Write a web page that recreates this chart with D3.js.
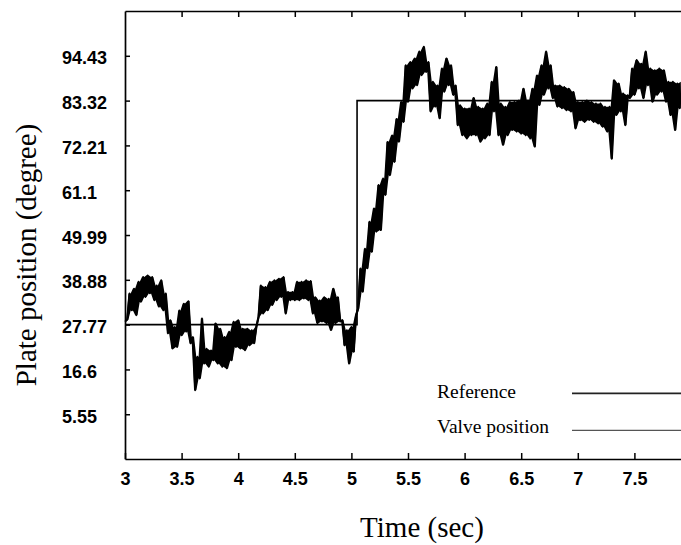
<!DOCTYPE html>
<html>
<head>
<meta charset="utf-8">
<script src="https://cdn.jsdelivr.net/npm/d3@7/dist/d3.min.js"></script>
<style>
  html, body { margin: 0; padding: 0; background: #fff; }
  svg { display: block; }
</style>
</head>
<body>
<svg id="chart" width="681" height="545"></svg>
<script>
// Axis ticks
const xTicks = [3, 3.5, 4, 4.5, 5, 5.5, 6, 6.5, 7, 7.5];
const xTickLabels = ["3", "3.5", "4", "4.5", "5", "5.5", "6", "6.5", "7", "7.5"];
const yTicks = [5.55, 16.66, 27.77, 38.88, 49.99, 61.10, 72.21, 83.32, 94.43];
const yTickLabels = ["5.55", "16.6", "27.77", "38.88", "49.99", "61.1", "72.21", "83.32", "94.43"];

// Reference (set-point) step
const refTime = [3, 5.05, 5.05, 8];
const refValue = [27.77, 27.77, 83.32, 83.32];

// Measured valve position, sampled every 0.02 s from t = 3 s
const valveStart = 3;
const valveStep = 0.02;
const valveValue = [
  28.5, 29.0, 35.5, 31.3, 36.7, 30.1, 38.4, 33.4, 39.6, 34.6,
  40.0, 35.5, 39.6, 33.8, 37.5, 32.2, 38.8, 31.3, 35.5, 25.6,
  28.9, 21.8, 27.2, 22.2, 31.3, 25.1, 33.0, 26.0, 33.6, 23.1,
  24.7, 11.5, 19.8, 14.4, 29.3, 18.1, 21.8, 17.3, 21.4, 18.9,
  28.1, 18.1, 26.8, 17.3, 24.7, 16.9, 26.0, 18.9, 28.5, 22.2,
  28.9, 21.8, 26.8, 21.4, 26.8, 22.6, 26.4, 23.1, 27.2, 29.7,
  37.5, 30.5, 37.1, 31.3, 38.4, 32.6, 38.8, 33.8, 39.2, 34.6,
  39.6, 30.5, 35.9, 33.8, 35.9, 33.8, 38.4, 33.8, 38.4, 34.2,
  38.8, 33.8, 38.6, 30.5, 34.6, 28.1, 33.8, 28.5, 34.6, 28.1,
  34.2, 26.4, 36.7, 28.1, 34.6, 28.5, 28.9, 22.6, 26.4, 18.1,
  27.2, 21.0, 30.0, 31.8, 41.7, 35.9, 46.6, 41.7, 53.3, 45.8,
  56.6, 50.8, 62.4, 51.2, 64.0, 59.9, 73.1, 64.8, 74.7, 68.1,
  78.8, 73.1, 83.0, 78.0, 92.1, 83.0, 92.9, 86.3, 93.8, 87.1,
  95.5, 89.6, 96.7, 90.4, 92.9, 80.6, 88.0, 81.8, 87.1, 78.9,
  91.3, 85.5, 93.8, 87.1, 92.1, 84.7, 87.1, 77.2, 82.2, 74.7,
  81.4, 73.9, 81.4, 74.7, 84.0, 74.7, 81.8, 73.1, 81.4, 73.9,
  82.6, 74.7, 88.0, 80.6, 91.7, 74.7, 82.6, 72.3, 81.8, 74.7,
  83.0, 76.0, 83.0, 75.6, 83.4, 75.1, 86.3, 74.7, 83.4, 73.9,
  86.3, 71.9, 89.6, 82.2, 92.1, 84.7, 95.5, 86.3, 92.1, 83.9,
  87.1, 81.8, 87.1, 81.4, 86.7, 80.9, 86.3, 80.6, 85.5, 76.4,
  83.0, 78.4, 83.0, 78.0, 83.4, 78.5, 83.0, 78.0, 82.6, 77.6,
  82.6, 76.8, 81.8, 75.6, 81.8, 68.9, 88.4, 79.7, 87.6, 80.6,
  85.1, 77.2, 84.7, 83.9, 91.3, 84.7, 93.4, 86.3, 92.5, 83.9,
  95.5, 87.1, 91.3, 83.0, 90.9, 84.7, 91.3, 85.5, 90.9, 83.0,
  88.0, 79.7, 88.0, 76.0, 87.6, 81.4, 88.0
];

const legendLabels = ["Reference", "Valve position"];

(function drawChart() {
  const svg = d3.select("#chart");
  const plotLeft = 125, plotRight = 691, plotTop = 11, plotBottom = 459;

  const x = d3.scaleLinear().domain([3, 8]).range([plotLeft, plotRight]);
  const y = d3.scaleLinear().domain([-5.55, 105.54]).range([plotBottom, plotTop]);

  const sansFont = "'Liberation Sans', Arial, sans-serif";
  const serifFont = "'Liberation Serif', 'Times New Roman', serif";

  // Bottom axis with inward ticks
  const gx = svg.append("g")
    .attr("transform", `translate(0,${plotBottom})`)
    .call(d3.axisBottom(x).tickValues(xTicks)
      .tickFormat((d, i) => xTickLabels[i])
      .tickSizeInner(-6).tickSizeOuter(0));
  gx.selectAll("text")
    .attr("y", 26)
    .attr("dy", 0)
    .attr("fill", "#000")
    .style("font-family", sansFont)
    .style("font-weight", "bold")
    .style("font-size", "18px");

  // Top border with inward ticks
  const gt = svg.append("g")
    .attr("transform", `translate(0,${plotTop})`)
    .call(d3.axisTop(x).tickValues(xTicks.slice(1))
      .tickFormat("").tickSizeInner(-6).tickSizeOuter(0));

  // Left axis with inward ticks, labels left-aligned
  const gy = svg.append("g")
    .attr("transform", `translate(${plotLeft},0)`)
    .call(d3.axisLeft(y).tickValues(yTicks)
      .tickFormat((d, i) => yTickLabels[i])
      .tickSizeInner(-5).tickSizeOuter(0));
  gy.selectAll("text")
    .attr("x", -63)
    .attr("dy", "0.45em")
    .attr("text-anchor", "start")
    .attr("fill", "#000")
    .style("font-family", sansFont)
    .style("font-weight", "bold")
    .style("font-size", "18px");

  [gx, gt, gy].forEach(g => {
    g.select(".domain").attr("stroke", "#000").attr("stroke-width", 1.7);
    g.selectAll(".tick line").attr("stroke", "#000").attr("stroke-width", 1.5);
  });

  // Reference step line
  const refLine = d3.line().x(d => x(d[0])).y(d => y(d[1]));
  svg.append("path")
    .datum(refTime.map((t, i) => [t, refValue[i]]))
    .attr("d", refLine)
    .attr("fill", "none")
    .attr("stroke", "#000")
    .attr("stroke-width", 1.6);

  // Valve position trace. The sampled signal swings so fast that it reads
  // as a solid band: fill the span each segment covers, then stroke the
  // samples on top for the jagged edges.
  const timeOf = i => valveStart + i * valveStep;
  const segments = d3.pairs(valveValue).map(([a, b], i) => ({
    t: timeOf(i) + valveStep / 2,
    lo: Math.min(a, b),
    hi: Math.max(a, b)
  }));
  svg.append("path")
    .datum(segments)
    .attr("d", d3.area()
      .x(d => x(d.t))
      .y0(d => y(d.lo))
      .y1(d => y(d.hi)))
    .attr("fill", "#000");

  const valveLine = d3.line()
    .x((d, i) => x(timeOf(i)))
    .y(d => y(d));
  svg.append("path")
    .datum(valveValue)
    .attr("d", valveLine)
    .attr("fill", "none")
    .attr("stroke", "#000")
    .attr("stroke-width", 1.8)
    .attr("stroke-linejoin", "round");

  // Legend
  const legendRows = [
    { label: legendLabels[0], textY: 398, lineY: 393.3, stroke: "#222", width: 1.8 },
    { label: legendLabels[1], textY: 433, lineY: 430.3, stroke: "#555", width: 1.2 }
  ];
  const lg = svg.append("g");
  legendRows.forEach(r => {
    lg.append("text")
      .attr("x", 437).attr("y", r.textY)
      .attr("fill", "#000")
      .style("font-family", serifFont)
      .style("font-size", "19.5px")
      .text(r.label);
    lg.append("line")
      .attr("x1", 572).attr("x2", 690)
      .attr("y1", r.lineY).attr("y2", r.lineY)
      .attr("stroke", r.stroke).attr("stroke-width", r.width);
  });

  // Axis titles
  svg.append("text")
    .attr("transform", "translate(36,255) rotate(-90)")
    .attr("text-anchor", "middle")
    .attr("fill", "#000")
    .style("font-family", serifFont)
    .style("font-size", "29px")
    .text("Plate position (degree)");

  svg.append("text")
    .attr("x", 422).attr("y", 537)
    .attr("text-anchor", "middle")
    .attr("fill", "#000")
    .style("font-family", serifFont)
    .style("font-size", "29px")
    .text("Time (sec)");
})();
</script>
</body>
</html>
